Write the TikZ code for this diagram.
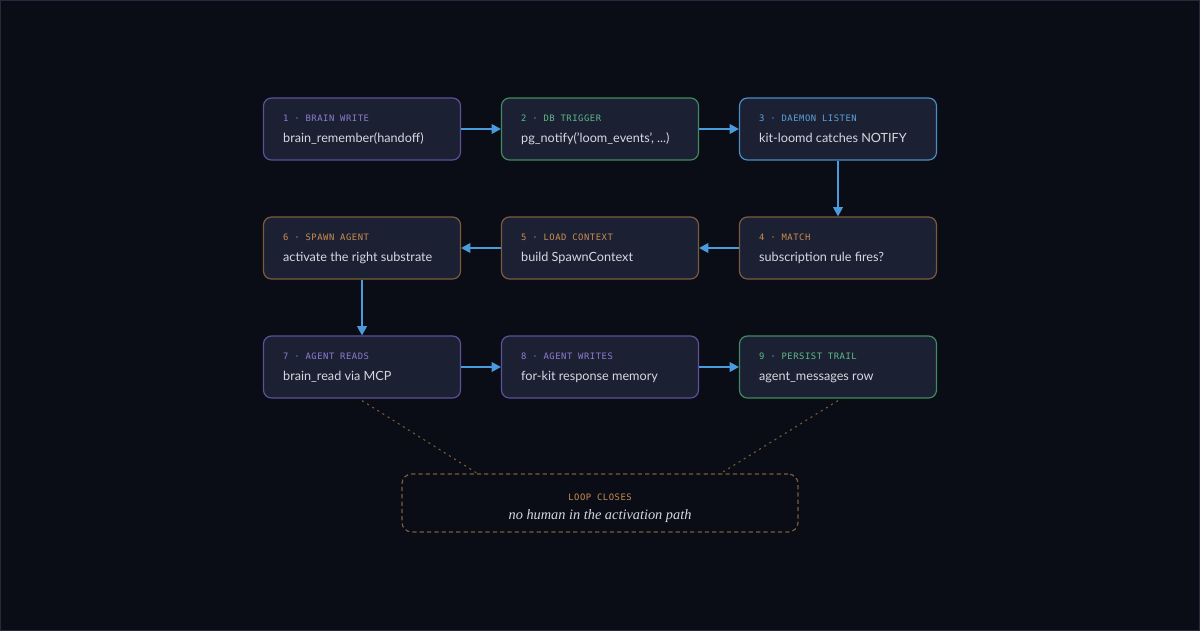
\documentclass[tikz,border=0pt]{standalone}
\usepackage{fontspec}
\setmainfont{Lato}
\newfontfamily\labelfont{DejaVu Sans Mono}[LetterSpace=6]
\newfontfamily\notefont{Liberation Serif}
\usetikzlibrary{calc,arrows.meta}
\definecolor{bg}{HTML}{0A0D16}
\definecolor{frame}{HTML}{262A3C}
\definecolor{boxfill}{HTML}{1C2033}
\definecolor{maintxt}{HTML}{D6D8E0}
\definecolor{purpline}{HTML}{5E4F9A}
\definecolor{greenline}{HTML}{3F8A5E}
\definecolor{blueline}{HTML}{4A8CC4}
\definecolor{brownline}{HTML}{7A5C3C}
\definecolor{purptxt}{HTML}{8E7CD0}
\definecolor{greentxt}{HTML}{5DBB86}
\definecolor{bluetxt}{HTML}{5BA3DC}
\definecolor{orangetxt}{HTML}{C98D52}
\definecolor{arrowc}{HTML}{4A9BDB}
\tikzset{
  box/.style={draw, line width=0.85pt, fill=boxfill, rounded corners=5.7pt,
    minimum width=4.925cm, minimum height=1.55cm, inner sep=0pt},
  lbl/.style={anchor=base west, inner sep=0pt, font=\labelfont\fontsize{6.3}{7}\selectfont},
  txt/.style={anchor=base west, inner sep=0pt, text=maintxt, font=\fontsize{9}{11}\selectfont},
  flow/.style={draw=arrowc, line width=0.95pt, -{Triangle[length=6.6pt,width=7pt]}},
  loopbox/.style={draw=brownline, line width=0.85pt, dash pattern=on 3pt off 2.2pt,
    rounded corners=7pt, minimum width=9.9cm, minimum height=1.45cm, inner sep=0pt},
  link/.style={draw=brownline, line width=0.75pt, dash pattern=on 1.5pt off 2.8pt}
}
\begin{document}
\begin{tikzpicture}[x=0.025cm,y=-0.025cm]
\useasboundingbox (0,0) rectangle (1200,631);
\draw[frame, fill=bg, line width=0.7pt] (0.5,0.5) rectangle (1199.5,630.5);

\node[box, draw=purpline] (write) at (362,129) {};
\node[box, draw=greenline] (trigger) at (600,129) {};
\node[box, draw=blueline] (listen) at (838,129) {};
\node[box, draw=brownline] (match) at (838,248) {};
\node[box, draw=brownline] (context) at (600,248) {};
\node[box, draw=brownline] (spawn) at (362,248) {};
\node[box, draw=purpline] (reads) at (362,367) {};
\node[box, draw=purpline] (writes) at (600,367) {};
\node[box, draw=greenline] (trail) at (838,367) {};

\node[lbl, text=purptxt] at ($(write.north west)+(20,24.5)$) {1 · BRAIN WRITE};
\node[txt] at ($(write.north west)+(20,45)$) {brain\_remember(handoff)};
\node[lbl, text=greentxt] at ($(trigger.north west)+(20,24.5)$) {2 · DB TRIGGER};
\node[txt] at ($(trigger.north west)+(20,45)$) {pg\_notify('loom\_events', ...)};
\node[lbl, text=bluetxt] at ($(listen.north west)+(20,24.5)$) {3 · DAEMON LISTEN};
\node[txt] at ($(listen.north west)+(20,45)$) {kit-loomd catches NOTIFY};
\node[lbl, text=orangetxt] at ($(match.north west)+(20,24.5)$) {4 · MATCH};
\node[txt] at ($(match.north west)+(20,45)$) {subscription rule fires?};
\node[lbl, text=orangetxt] at ($(context.north west)+(20,24.5)$) {5 · LOAD CONTEXT};
\node[txt] at ($(context.north west)+(20,45)$) {build SpawnContext};
\node[lbl, text=orangetxt] at ($(spawn.north west)+(20,24.5)$) {6 · SPAWN AGENT};
\node[txt] at ($(spawn.north west)+(20,45)$) {activate the right substrate};
\node[lbl, text=purptxt] at ($(reads.north west)+(20,24.5)$) {7 · AGENT READS};
\node[txt] at ($(reads.north west)+(20,45)$) {brain\_read via MCP};
\node[lbl, text=purptxt] at ($(writes.north west)+(20,24.5)$) {8 · AGENT WRITES};
\node[txt] at ($(writes.north west)+(20,45)$) {for-kit response memory};
\node[lbl, text=greentxt] at ($(trail.north west)+(20,24.5)$) {9 · PERSIST TRAIL};
\node[txt] at ($(trail.north west)+(20,45)$) {agent\_messages row};

\draw[flow] (write) -- (trigger);
\draw[flow] (trigger) -- (listen);
\draw[flow] (listen) -- (match);
\draw[flow] (match) -- (context);
\draw[flow] (context) -- (spawn);
\draw[flow] (spawn) -- (reads);
\draw[flow] (reads) -- (writes);
\draw[flow] (writes) -- (trail);

\node[loopbox] (loop) at (600,503) {};
\node[lbl, anchor=base, text=orangetxt] (closes) at (600,500.5) {LOOP CLOSES};
\node[anchor=base, inner sep=0pt, text=maintxt, font=\notefont\itshape\fontsize{10.2}{12}\selectfont] (nohuman) at (600,519) {no human in the activation path};
\coordinate (loopl) at ($(loop.north west)+(76,0)$);
\coordinate (loopr) at ($(loop.north east)+(-78,0)$);
\draw[link] ($(reads.south)+(0,2)$) -- (loopl);
\draw[link] ($(trail.south)+(0,2)$) -- (loopr);
\end{tikzpicture}
\end{document}
